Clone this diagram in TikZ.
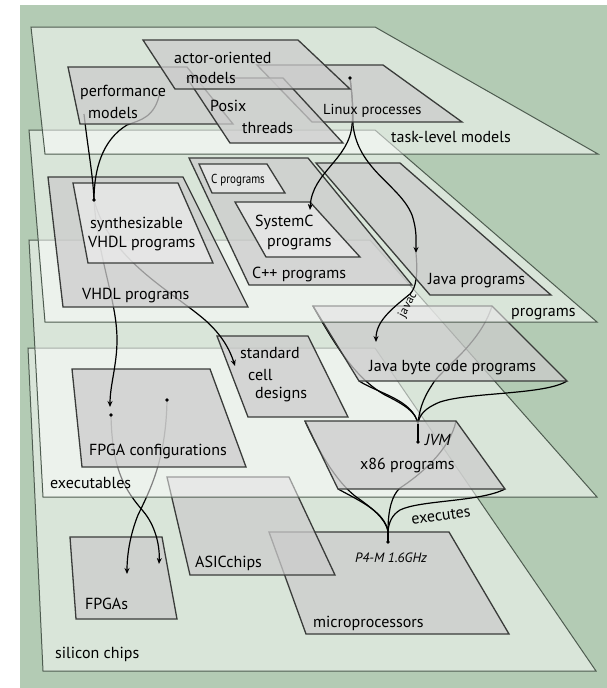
\documentclass[tikz,border=0pt]{standalone}
\usepackage{fontspec}
\setmainfont{PT Sans}
\usetikzlibrary{arrows.meta}

\definecolor{bggreen}{RGB}{179,203,180}
\definecolor{planeline}{RGB}{78,92,80}
\definecolor{slabline}{RGB}{58,60,58}

\newcommand{\platecorners}[5]{%
  \coordinate (#1-tl) at (#2);
  \coordinate (#1-tr) at (#3);
  \coordinate (#1-br) at (#4);
  \coordinate (#1-bl) at (#5);}
\newcommand{\drawplate}[2]{\draw[#1] (#2-tl) -- (#2-tr) -- (#2-br) -- (#2-bl) -- cycle;}

\tikzset{
  plane/.style={draw=planeline, line width=1pt, fill=white, fill opacity=0.5},
  slab/.style={draw=slabline, line width=1.3pt, fill=black!20, fill opacity=0.75},
  innerslab/.style={slab, fill=black!8},
  flow/.style={draw=black, line width=1.2pt},
  flowto/.style={flow, -{Stealth[length=6pt,width=5pt]}},
  joint/.style={circle, fill=black, inner sep=0pt, minimum size=3.8pt},
  lbl/.style={anchor=base west, inner sep=0pt, font=\fontsize{16}{18}\selectfont},
  smalllbl/.style={lbl, font=\fontsize{12}{14}\selectfont},
  itlbl/.style={lbl, font=\fontsize{13}{15}\selectfont\itshape},
}

\begin{document}
\begin{tikzpicture}[x=1pt,y=-1pt]
\useasboundingbox (0,0) rectangle (607,688);
\fill[bggreen] (20,5) rectangle (607,688);

\platecorners{chips}{28,348}{375,348}{596,671}{43,671}
\platecorners{micro}{269,532}{449,532}{509,634}{306,634}
\platecorners{asic}{167,477}{289,477}{335,575}{190,575}
\platecorners{fpgas}{70,537}{162,537}{177,619}{76,619}
\drawplate{plane}{chips}
\drawplate{slab}{micro}
\drawplate{slab}{asic}
\drawplate{slab}{fpgas}

\coordinate (cfgdotA) at (111,415);
\coordinate (cfgdotB) at (167,400);
\coordinate (fpgastipA) at (159,564);
\coordinate (fpgastipB) at (127,574);
\draw[flowto] (cfgdotA) .. controls (112,470) and (125,490) .. (143,511) .. controls (155,525) and (160,545) .. (fpgastipA);
\draw[flowto] (cfgdotB) .. controls (166,460) and (150,490) .. (138,515) .. controls (130,535) and (127,555) .. (fpgastipB);

\platecorners{exec}{29,240}{370,240}{597,497}{43,497}
\platecorners{stdcell}{217,336}{308,336}{348,417}{248,417}
\platecorners{fpgacfg}{72,369}{210,369}{246,467}{82,467}
\platecorners{javabc}{313,306}{492,306}{567,381}{359,381}
\platecorners{x86}{305,421}{456,421}{505,489}{338,489}
\drawplate{plane}{exec}

\coordinate (jvm) at (418,424);
\coordinate (jvmdot) at (418,442);
\coordinate (p4m) at (388,531);
\coordinate (p4mdot) at (388,542);
\draw[flow] (javabc-tl) .. controls (335,345) and (355,378) .. (385,395) .. controls (405,405) and (416,412) .. (jvm);
\draw[flow] (javabc-bl) .. controls (380,394) and (413,400) .. (jvm);
\draw[flow] (javabc-tr) .. controls (480,345) and (440,370) .. (432,385) .. controls (422,400) and (419,412) .. (jvm);
\draw[flow] (javabc-br) .. controls (545,395) and (470,392) .. (440,402) .. controls (425,408) and (419,415) .. (jvm);
\draw[flow] (x86-tl) .. controls (318,450) and (335,480) .. (355,496) .. controls (372,508) and (385,518) .. (p4m);
\draw[flow] (x86-bl) .. controls (362,502) and (384,512) .. (p4m);
\draw[flow] (x86-tr) .. controls (450,450) and (420,475) .. (400,488) .. controls (392,495) and (388,510) .. (p4m);
\draw[flow] (x86-br) .. controls (480,502) and (420,500) .. (400,510) .. controls (392,515) and (389,522) .. (p4m);

\drawplate{slab}{stdcell}
\drawplate{slab}{fpgacfg}
\drawplate{slab}{javabc}
\drawplate{slab}{x86}
\draw[flow] (jvm) -- (jvmdot);
\draw[flow] (p4m) -- (p4mdot);
\node[joint] (jvmmark) at (jvmdot) {};
\node[joint] (p4mmark) at (p4mdot) {};
\node[joint] (cfgmarkA) at (cfgdotA) {};
\node[joint] (cfgmarkB) at (cfgdotB) {};

\platecorners{progs}{29,130}{375,130}{597,322}{45,322}
\platecorners{vhdl}{48,177}{183,177}{248,307}{63,307}
\platecorners{synth}{73,183}{178,183}{213,263}{88,263}
\platecorners{cpp}{189,158}{308,158}{412,285}{249,285}
\platecorners{cprog}{199,164}{267,164}{285,193}{212,193}
\platecorners{sysc}{235,202}{310,202}{360,257}{266,257}
\platecorners{javap}{316,163}{400,163}{551,295}{430,295}
\drawplate{plane}{progs}

\coordinate (synthdot) at (94,200);
\coordinate (cfgtip) at (110,407);
\coordinate (stdtip) at (235,366);
\coordinate (javaptip) at (416,253);
\coordinate (javabctip) at (376,342);
\draw[flowto] (synthdot) .. controls (98,260) and (117,300) .. (117,340) .. controls (117,365) and (110,385) .. (cfgtip);
\draw[flowto] (synthdot) .. controls (110,260) and (170,290) .. (205,320) .. controls (222,335) and (230,350) .. (stdtip);
\draw[flowto] (javaptip) .. controls (418,275) and (416,288) .. (410,294) .. controls (390,310) and (376,322) .. (javabctip);

\drawplate{slab}{vhdl}
\drawplate{innerslab}{synth}
\drawplate{slab}{cpp}
\drawplate{innerslab}{cprog}
\drawplate{innerslab}{sysc}
\drawplate{slab}{javap}

\platecorners{task}{31,27}{375,27}{598,154}{45,154}
\platecorners{perf}{68,67}{187,67}{233,124}{80,124}
\platecorners{linux}{257,65}{383,65}{462,122}{312,122}
\platecorners{posix}{187,78}{283,78}{343,143}{230,143}
\platecorners{actor}{143,40}{298,40}{350,89}{175,89}
\drawplate{plane}{task}

\coordinate (perfA) at (84,114);
\coordinate (perfB) at (160,92);
\coordinate (linuxdot) at (350,78);
\coordinate (systip) at (310,210);
\draw[flow] (perfA) .. controls (88,150) and (93,175) .. (synthdot);
\draw[flow] (perfB) .. controls (155,118) and (140,120) .. (127,125) .. controls (102,140) and (94,170) .. (synthdot);
\draw[flowto] (linuxdot) .. controls (353,100) and (353,115) .. (352,125) .. controls (349,160) and (312,172) .. (systip);
\draw[flowto] (linuxdot) .. controls (353,100) and (353,115) .. (353,125) .. controls (358,170) and (400,185) .. (412,215) .. controls (417,230) and (416,240) .. (javaptip);

\drawplate{slab}{perf}
\drawplate{slab}{linux}
\drawplate{slab}{posix}
\drawplate{slab}{actor}
\node[joint] (synthmark) at (synthdot) {};
\node[joint] (linuxmark) at (linuxdot) {};

\node[lbl] (tasklbl) at (391,142) {task-level models};
\node[lbl] (actorlbl) at (174,63) {actor-oriented};
\node[lbl] (actorlblb) at (186,83) {models};
\node[lbl] (perflbl) at (80,96) {performance};
\node[lbl] (perflblb) at (88,118) {models};
\node[lbl] (posixlbl) at (210,111) {Posix};
\node[lbl] (posixlblb) at (242,133) {threads};
\node[lbl, font=\fontsize{14.5}{16}\selectfont] (linuxlbl) at (323,114) {Linux processes};

\node[lbl] (progslbl) at (511,316) {programs};
\node[lbl, font=\fontsize{13}{15}\selectfont, xscale=0.85] (cproglbl) at (211,183) {C programs};
\node[lbl] (synthlbl) at (90,228) {synthesizable};
\node[lbl] (synthlblb) at (88,247) {VHDL programs};
\node[lbl] (sysclbl) at (255,226) {SystemC};
\node[lbl] (sysclblb) at (267,246) {programs};
\node[lbl] (cpplbl) at (252,278) {C++ programs};
\node[lbl] (vhdllbl) at (82,299) {VHDL programs};
\node[lbl] (javaplbl) at (428,284) {Java programs};
\node[smalllbl, anchor=center, rotate=62] (javaclbl) at (408,305) {javac};

\node[lbl] (javabclbl) at (369,371) {Java byte code programs};
\node[lbl] (stdlbl) at (240,358) {standard};
\node[lbl] (stdlblb) at (248,380) {cell};
\node[lbl] (stdlblc) at (255,398) {designs};
\node[lbl] (cfglbl) at (89,455) {FPGA configurations};
\node[lbl] (execlbl) at (50,488) {executables};
\node[itlbl, font=\fontsize{16}{18}\selectfont\itshape] (jvmlbl) at (425,445) {JVM};
\node[lbl] (x86lbl) at (360,469) {x86 programs};
\node[lbl, anchor=center, rotate=8] (execslbl) at (441,516) {executes};

\node[itlbl, font=\fontsize{13.5}{15}\selectfont\itshape] (p4mlbl) at (355,562) {P4-M 1.6GHz};
\node[lbl] (asiclbl) at (195,567) {ASICchips};
\node[lbl] (fpgaslbl) at (85,609) {FPGAs};
\node[lbl] (microlbl) at (313,627) {microprocessors};
\node[lbl] (chipslbl) at (55,658) {silicon chips};
\end{tikzpicture}
\end{document}
